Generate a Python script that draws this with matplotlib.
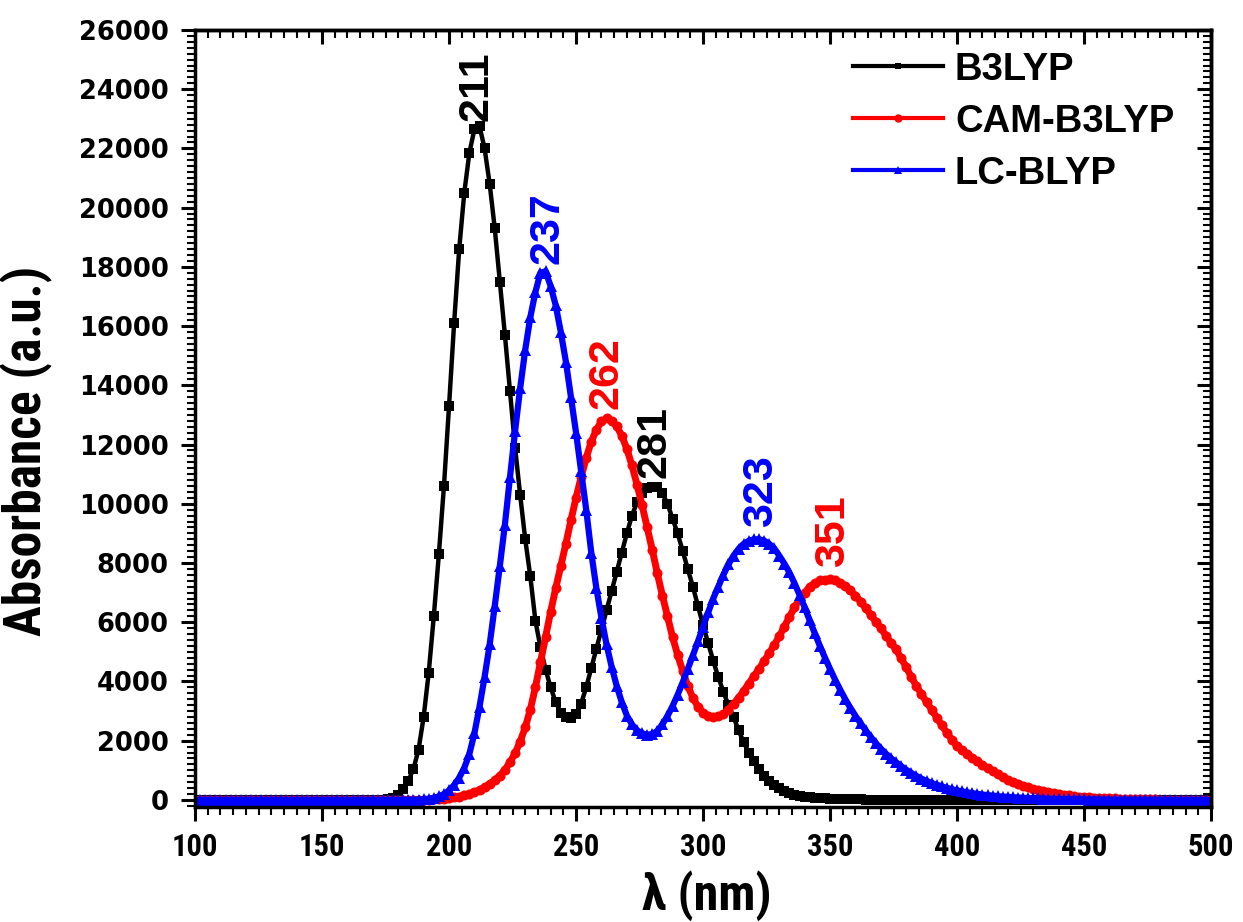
import numpy as np
import matplotlib
matplotlib.use('Agg')
import matplotlib.pyplot as plt
from matplotlib.ticker import MultipleLocator

wl = np.arange(100, 501, 2)

b3lyp = [
    0, 0, 0, 0, 0, 0, 0, 0, 0, 0,                                          # 100-118
    0, 0, 0, 0, 0, 0, 0, 0, 0, 0,                                          # 120-138
    0, 0, 0, 0, 0, 0, 0, 0, 0, 0,                                          # 140-158
    0, 0, 0, 0, 0, 0, 0, 0, 20, 70,                                        # 160-178
    180, 370, 650, 1050, 1700, 2800, 4300, 6200, 8300, 10600,             # 180-198
    13300, 16100, 18600, 20500, 21850, 22650, 22750, 22000, 20800, 19300, # 200-218
    17500, 15700, 13800, 11900, 10300, 8800, 7550, 6050, 5150, 4400,      # 220-238
    3800, 3300, 2950, 2800, 2770, 2900, 3250, 3800, 4450, 5100,           # 240-258
    5750, 6400, 7050, 7700, 8350, 9000, 9600, 10050, 10350, 10520,        # 260-278
    10580, 10550, 10350, 10000, 9500, 9000, 8400, 7800, 7200, 6550,       # 280-298
    5900, 5300, 4700, 4150, 3650, 3200, 2800, 2350, 1950, 1600,           # 300-318
    1300, 1030, 820, 650, 500, 390, 300, 230, 180, 140,                   # 320-338
    110, 90, 75, 60, 50, 42, 36, 30, 26, 22,                              # 340-358
    19, 16, 14, 12, 10, 8, 7, 6, 5, 4,                                    # 360-378
    3, 2, 2, 1, 1, 0, 0, 0, 0, 0,                                         # 380-398
    0, 0, 0, 0, 0, 0, 0, 0, 0, 0,                                         # 400-418
    0, 0, 0, 0, 0, 0, 0, 0, 0, 0,                                         # 420-438
    0, 0, 0, 0, 0, 0, 0, 0, 0, 0,                                         # 440-458
    0, 0, 0, 0, 0, 0, 0, 0, 0, 0,                                         # 460-478
    0, 0, 0, 0, 0, 0, 0, 0, 0, 0,                                         # 480-498
    0]                                                                    # 500

cam_b3lyp = [
    0, 0, 0, 0, 0, 0, 0, 0, 0, 0,                                          # 100-118
    0, 0, 0, 0, 0, 0, 0, 0, 0, 0,                                          # 120-138
    0, 0, 0, 0, 0, 0, 0, 0, 0, 0,                                          # 140-158
    0, 0, 0, 0, 0, 0, 0, 0, 0, 0,                                          # 160-178
    0, 0, 0, 0, 0, 0, 5, 15, 25, 40,                                       # 180-198
    60, 85, 115, 155, 205, 265, 340, 430, 540, 670,                       # 200-218
    820, 1020, 1270, 1580, 1970, 2450, 3050, 3800, 4650, 5500,            # 220-238
    6350, 7150, 7900, 8650, 9450, 10200, 10900, 11550, 12100, 12500,      # 240-258
    12780, 12880, 12800, 12620, 12300, 11850, 11300, 10650, 9950, 9200,   # 260-278
    8450, 7650, 6900, 6200, 5500, 4900, 4350, 3850, 3450, 3150,           # 280-298
    2950, 2850, 2800, 2820, 2900, 3050, 3250, 3450, 3680, 3930,           # 300-318
    4180, 4420, 4680, 4950, 5230, 5520, 5850, 6180, 6500, 6780,           # 320-338
    7000, 7200, 7330, 7410, 7440, 7445, 7420, 7340, 7230, 7080,           # 340-358
    6900, 6700, 6480, 6250, 6020, 5800, 5550, 5300, 5080, 4780,           # 360-378
    4480, 4150, 3850, 3570, 3300, 3050, 2780, 2520, 2260, 2030,           # 380-398
    1820, 1680, 1550, 1420, 1300, 1180, 1070, 970, 870, 780,              # 400-418
    680, 600, 540, 480, 420, 370, 330, 290, 260, 230,                     # 420-438
    200, 175, 150, 130, 110, 95, 85, 75, 65, 60,                          # 440-458
    55, 50, 45, 40, 35, 30, 25, 20, 18, 15,                               # 460-478
    12, 10, 8, 6, 5, 4, 3, 2, 1, 0,                                       # 480-498
    0]                                                                    # 500

lc_blyp = [
    0, 0, 0, 0, 0, 0, 0, 0, 0, 0,                                          # 100-118
    0, 0, 0, 0, 0, 0, 0, 0, 0, 0,                                          # 120-138
    0, 0, 0, 0, 0, 0, 0, 0, 0, 0,                                          # 140-158
    0, 0, 0, 0, 0, 0, 0, 0, 0, 0,                                          # 160-178
    0, 0, 0, 5, 10, 20, 40, 70, 120, 200,                                  # 180-198
    320, 500, 750, 1080, 1550, 2250, 3150, 4150, 5250, 6550,              # 200-218
    7900, 9300, 10900, 12450, 13900, 15200, 16300, 17150, 17800, 17850,   # 220-238
    17350, 16700, 15800, 14800, 13600, 12400, 11100, 9800, 8350, 7150,    # 240-258
    6150, 5250, 4500, 3850, 3300, 2850, 2550, 2350, 2250, 2200,           # 260-278
    2220, 2330, 2550, 2830, 3170, 3550, 3970, 4420, 4880, 5350,           # 280-298
    5850, 6330, 6800, 7200, 7600, 7950, 8250, 8480, 8650, 8750,           # 300-318
    8800, 8800, 8760, 8650, 8500, 8250, 7980, 7680, 7320, 6920,           # 320-338
    6500, 6060, 5620, 5200, 4800, 4420, 4060, 3720, 3400, 3110,           # 340-358
    2840, 2590, 2350, 2130, 1920, 1730, 1560, 1410, 1270, 1140,           # 360-378
    1020, 910, 810, 720, 640, 570, 510, 455, 405, 360,                    # 380-398
    320, 285, 255, 228, 203, 180, 160, 142, 126, 112,                     # 400-418
    100, 88, 78, 69, 61, 54, 48, 42, 37, 33,                              # 420-438
    29, 26, 23, 20, 18, 16, 14, 12, 10, 9,                                # 440-458
    8, 7, 6, 5, 4, 4, 3, 3, 2, 2,                                         # 460-478
    2, 1, 1, 1, 1, 0, 0, 0, 0, 0,                                         # 480-498
    0]                                                                    # 500

series_names = ['B3LYP', 'CAM-B3LYP', 'LC-BLYP']

# peak annotations: label text, which series it belongs to
peak_text = ['211', '237', '262', '281', '323', '351']
peak_series = [0, 2, 1, 0, 2, 1]

x_ticks = [100, 150, 200, 250, 300, 350, 400, 450, 500]
y_ticks = [0, 2000, 4000, 6000, 8000, 10000, 12000, 14000, 16000,
           18000, 20000, 22000, 24000, 26000]

assert len(b3lyp) == len(wl) and len(cam_b3lyp) == len(wl) and len(lc_blyp) == len(wl)


narrow = ['Roboto Condensed', 'Liberation Sans', 'DejaVu Sans']
arial = ['Liberation Sans', 'DejaVu Sans']
plt.rcParams['font.family'] = arial
plt.rcParams['font.weight'] = 'bold'

fig = plt.figure(figsize=(12.43, 9.22), dpi=100)
ax = fig.add_axes([0.1569, 0.1247, 0.8174, 0.8428])

colors = ['black', 'red', 'blue']
markers = ['s', 'o', '^']
msizes = [6.5, 7.2, 8.0]
lws = [3.2, 5.0, 4.5]
data = [b3lyp, cam_b3lyp, lc_blyp]
for d, c, m, ms, lw, name in zip(data, colors, markers, msizes, lws, series_names):
    ax.plot(wl, d, color=c, marker=m, markersize=ms, lw=lw, label=name,
            markeredgewidth=0)

ax.set_xlim(100, 500)
ax.set_ylim(-240, 26000)

ax.set_xticks(x_ticks, labels=[str(t) for t in x_ticks],
              fontfamily=narrow, fontsize=22, fontweight='bold')
ax.set_yticks(y_ticks, labels=[str(t) for t in y_ticks],
              fontfamily=['DejaVu Sans'], fontsize=18.5, fontweight='bold')
ax.xaxis.set_minor_locator(MultipleLocator(5))
ax.yaxis.set_minor_locator(MultipleLocator(200))
ax.tick_params(which='major', direction='out', length=10, width=2.2, pad=8)
ax.tick_params(which='minor', direction='out', length=5.5, width=1.5)
ax.tick_params(axis='y', which='major', pad=9)
for s in ax.spines.values():
    s.set_linewidth(2.5)

# mirrored ticks on top and right point inward
top = ax.secondary_xaxis('top')
top.xaxis.set_major_locator(MultipleLocator(50))
top.xaxis.set_minor_locator(MultipleLocator(5))
top.tick_params(which='major', direction='in', length=10, width=2.2, labeltop=False)
top.tick_params(which='minor', direction='in', length=5.5, width=1.5)
top.spines['top'].set_linewidth(2.5)
right = ax.secondary_yaxis('right')
right.yaxis.set_major_locator(MultipleLocator(2000))
right.yaxis.set_minor_locator(MultipleLocator(200))
right.tick_params(which='major', direction='in', length=10, width=2.2, labelright=False)
right.tick_params(which='minor', direction='in', length=5.5, width=1.5)
right.spines['right'].set_linewidth(2.5)

ax.set_xlabel('λ (nm)', fontfamily=narrow, fontsize=36, fontweight='bold')
ax.set_ylabel('Absorbance (a.u.)', fontfamily=narrow, fontsize=37, fontweight='bold')
ax.xaxis.set_label_coords(0.504, -0.082)
ax.yaxis.set_label_coords(-0.141, 0.458)

# peak labels, vertical, just above each maximum
offsets = [(0, 3.5), (3.4, 5.5), (0, 6.5), (0, 6.5), (0, 9), (0, 9)]
for txt, si, off in zip(peak_text, peak_series, offsets):
    d = np.array(data[si])
    lam = float(txt)
    win = (wl >= lam - 4) & (wl <= lam + 4)
    ypk = d[win].max()
    ax.annotate(txt, xy=(lam, ypk), xytext=off, textcoords='offset points',
                rotation=90, ha='center', va='bottom', color=colors[si],
                fontsize=31, fontweight='bold', fontfamily=arial)

leg = ax.legend(loc='upper left', bbox_to_anchor=(0.6476, 0.972), frameon=False,
                fontsize=27.5, handlelength=2.36, handletextpad=0.31,
                labelspacing=0.42, borderpad=0, borderaxespad=0, numpoints=1)
for t in leg.get_texts():
    t.set_fontweight('bold')
# legend lines are all the same thin stroke in the original
for h, ms in zip(leg.get_lines(), [4.5, 6.0, 6.0]):
    h.set_linewidth(3)
    h.set_markersize(ms)

fig.savefig('out.png', dpi=100)
